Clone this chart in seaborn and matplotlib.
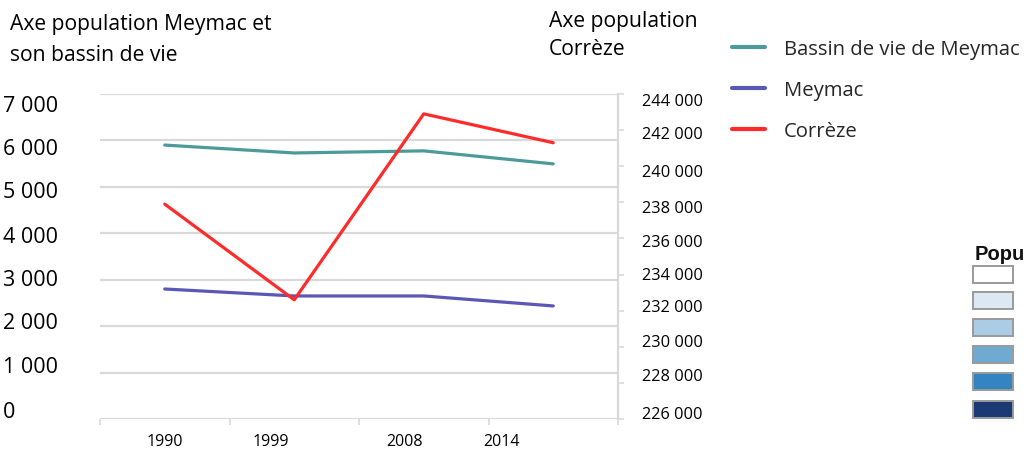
import matplotlib
matplotlib.use("Agg")
import matplotlib.pyplot as plt
import seaborn as sns
import pandas as pd
from matplotlib.lines import Line2D
from matplotlib.patches import Rectangle
from matplotlib.ticker import FixedLocator, NullFormatter

# data
years = ["1990", "1999", "2008", "2014"]
bassin = [5900, 5730, 5775, 5495]
meymac = [2800, 2650, 2650, 2435]
correze = [237900, 232600, 242900, 241300]

left_ticks = [0, 1000, 2000, 3000, 4000, 5000, 6000, 7000]
right_ticks = list(range(226000, 246000, 2000))

teal = "#4d9a9b"
blue = "#5b57b6"
red = "#ff2b2b"
grid = "#d9d9d9"
text_colour = "black"

pop_colours = ["#ffffff", "#dce9f5", "#aacde5", "#70a9d2", "#3484c2", "#1b3a74"]

sns.set_theme(style="white")
plt.rcParams["font.family"] = ["Open Sans", "DejaVu Sans"]

df = pd.DataFrame({"Année": years, "Bassin": bassin, "Meymac": meymac, "Corrèze": correze})

W, H = 1032, 452
fig = plt.figure(figsize=(W / 100, H / 100), dpi=100)
fig.patch.set_facecolor("white")


def fx(px):
    return px / W


def fy(py):
    return 1 - py / H


ax = fig.add_axes([fx(100), fy(420), fx(618) - fx(100), fy(95) - fy(420)])
ax2 = ax.twinx()

sns.lineplot(data=df, x="Année", y="Bassin", ax=ax, color=teal, linewidth=2.3, sort=False)
sns.lineplot(data=df, x="Année", y="Meymac", ax=ax, color=blue, linewidth=2.3, sort=False)
sns.lineplot(data=df, x="Année", y="Corrèze", ax=ax2, color=red, linewidth=2.3, sort=False)

ax.set_xlim(-0.5, len(years) - 0.5)
ax.set_ylim(0, 7000)
ax2.set_ylim(226000, 244000)

# left axis: grid on the major ticks, labels shifted like in the picture
ax.yaxis.set_major_locator(FixedLocator(left_ticks))
ax.yaxis.set_major_formatter(NullFormatter())
ax.tick_params(axis="y", which="major", length=0)
ax.grid(axis="y", color=grid, linewidth=1.6)
ax.set_axisbelow(True)
left_shift = [215, 1185, 2132, 3058, 3985, 4954, 5880, 6806]
ax.yaxis.set_minor_locator(FixedLocator(left_shift))
ax.set_yticklabels([f"{v:,}".replace(",", " ") for v in left_ticks], minor=True)
ax.tick_params(axis="y", which="minor", length=0, pad=70, labelsize=15.5, labelcolor=text_colour)
for lbl in ax.get_yticklabels(minor=True):
    lbl.set_ha("left")

# right axis
ax2.yaxis.set_major_locator(FixedLocator(right_ticks))
ax2.yaxis.set_major_formatter(NullFormatter())
ax2.tick_params(axis="y", which="major", length=4, width=1.2, color=grid, direction="out", right=True)
right_shift = [226400, 228500, 230400, 232300, 234100, 235900, 237800, 239800, 241900, 243700]
ax2.yaxis.set_minor_locator(FixedLocator(right_shift))
ax2.set_yticklabels([f"{v:,}".replace(",", " ") for v in right_ticks], minor=True)
ax2.tick_params(axis="y", which="minor", length=0, pad=17, labelsize=11.8, labelcolor=text_colour)

# x axis
ax.set_xticks([0, 0.82, 1.85, 2.6])
ax.set_xticklabels(years)
ax.tick_params(axis="x", which="major", length=0, pad=10, labelsize=11.5, labelcolor=text_colour)
ax.xaxis.set_minor_locator(FixedLocator([-0.5, 0.5, 1.5, 2.5, 3.5]))
ax.tick_params(axis="x", which="minor", length=4, width=1.2, color=grid, direction="out", bottom=True)

ax.set_xlabel("")
ax.set_ylabel("")
ax2.set_ylabel("")

for a in (ax, ax2):
    for s in ["top", "left", "bottom", "right"]:
        a.spines[s].set_visible(False)
    a.set_facecolor("none")
ax2.spines["right"].set_visible(True)
ax2.spines["right"].set_color(grid)
ax2.spines["right"].set_linewidth(1.6)

# axis titles
fig.text(fx(10), fy(14), "Axe population Meymac et\nson bassin de vie", ha="left", va="top",
         fontsize=15.2, color=text_colour, linespacing=1.6)
fig.text(fx(549), fy(11), "Axe population\nCorrèze", ha="left", va="top",
         fontsize=15.2, color=text_colour, linespacing=1.45)

# legend
handles = [Line2D([], [], color=teal, linewidth=3),
           Line2D([], [], color=blue, linewidth=3),
           Line2D([], [], color=red, linewidth=3)]
labels = ["Bassin de vie de Meymac", "Meymac", "Corrèze"]
fig.legend(handles, labels, loc="upper left", bbox_to_anchor=(fx(714), fy(22)),
           frameon=False, fontsize=14.6, handlelength=1.6, handletextpad=0.95, labelspacing=1.03)

# fragment of a population legend on the right, cut by the picture edge
fig.text(fx(975), fy(254), "Popu", fontsize=14.5, fontweight="bold", ha="left", va="center",
         color="#111111", family=["Liberation Sans", "DejaVu Sans"])
box_top = [267, 293, 320, 347, 374, 402]
for top, c in zip(box_top, pop_colours):
    fig.add_artist(Rectangle((fx(973), fy(top + 17)), fx(40), fy(top) - fy(top + 17),
                             transform=fig.transFigure, facecolor=c, edgecolor="#9a9a9a", linewidth=1.4))

fig.savefig("out.png", dpi=100)
